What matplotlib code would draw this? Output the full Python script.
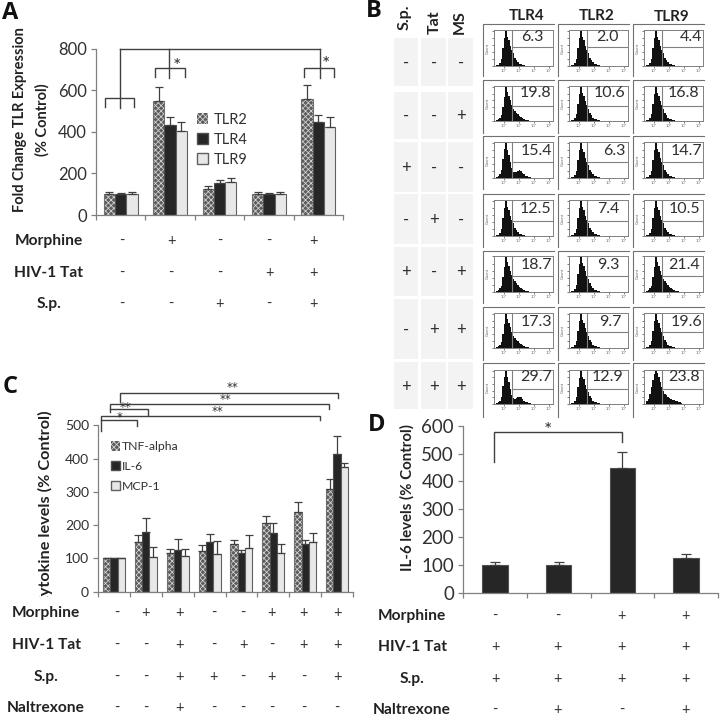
import numpy as np
import matplotlib
matplotlib.use("Agg")
import matplotlib.pyplot as plt
from matplotlib.patches import Patch, Rectangle

plt.rcParams['font.family'] = ['Lato', 'DejaVu Sans']
plt.rcParams['hatch.linewidth'] = 0.55

W, H = 720, 717
GREY = '#808080'
TXT = '#303030'
HATCH_BG = '#5c5c5c'
HATCH_FG = '#d8d8d8'

# panel A
a_tlr2 = [100, 550, 125, 100, 560]
a_tlr4 = [100, 435, 155, 100, 445]
a_tlr9 = [100, 402, 160, 100, 425]
a_tlr2_err = [10, 65, 15, 10, 65]
a_tlr4_err = [8, 35, 12, 8, 35]
a_tlr9_err = [10, 43, 18, 10, 47]
a_morphine = ['-', '+', '-', '-', '+']
a_tat = ['-', '-', '-', '+', '+']
a_sp = ['-', '-', '+', '-', '+']

# panel C
c_tnf = [100, 150, 115, 123, 142, 207, 238, 310]
c_il6 = [100, 180, 125, 148, 115, 176, 142, 414]
c_mcp = [100, 103, 106, 112, 130, 116, 149, 376]
c_tnf_err = [0, 20, 14, 16, 12, 20, 32, 30]
c_il6_err = [0, 42, 32, 25, 10, 30, 12, 55]
c_mcp_err = [0, 30, 23, 40, 41, 26, 26, 11]
c_morphine = ['-', '+', '+', '-', '-', '+', '+', '+']
c_tat = ['-', '-', '+', '-', '+', '-', '+', '+']
c_sp = ['-', '-', '+', '+', '-', '+', '-', '+']
c_nal = ['-', '-', '+', '-', '-', '-', '-', '-']

# panel D
d_il6 = [100, 100, 450, 125]
d_il6_err = [12, 12, 55, 15]
d_morphine = ['-', '-', '+', '+']
d_tat = ['+', '+', '+', '+']
d_sp = ['+', '+', '+', '+']
d_nal = ['-', '+', '-', '+']

# panel B
b_sp = ['-', '-', '+', '-', '+', '-', '+']
b_tat = ['-', '-', '-', '+', '-', '+', '+']
b_ms = ['-', '+', '-', '-', '+', '+', '+']
b_tlr4 = ['6.3', '19.8', '15.4', '12.5', '18.7', '17.3', '29.7']
b_tlr2 = ['2.0', '10.6', '6.3', '7.4', '9.3', '9.7', '12.9']
b_tlr9 = ['4.4', '16.8', '14.7', '10.5', '21.4', '19.6', '23.8']

# histogram outlines (fraction of peak per bin)
hist_narrow = [.02, .04, .08, .2, .5, .78, 1.0, .82, .74, .58, .46, .36, .24, .17, .1, .07, .05, .03, .02, .01, .01, 0, 0, 0]
hist_shoulder = [.03, .05, .1, .18, .42, .7, .98, .84, .72, .6, .48, .36, .3, .24, .19, .15, .12, .09, .06, .04, .03, .02, .01, .01]
hist_bimodal = [.03, .05, .1, .22, .55, .82, 1.0, .8, .66, .46, .28, .18, .16, .17, .2, .22, .2, .15, .1, .07, .05, .03, .02, .01]
hist_broad = [.1, .16, .3, .5, .72, .9, .98, .94, .82, .66, .5, .38, .3, .26, .21, .18, .15, .13, .11, .09, .08, .06, .05, .04]
hist_rows = [
    [hist_narrow, hist_narrow, hist_narrow],
    [hist_shoulder, hist_narrow, hist_narrow],
    [hist_bimodal, hist_narrow, hist_narrow],
    [hist_narrow, hist_narrow, hist_narrow],
    [hist_shoulder, hist_narrow, hist_shoulder],
    [hist_shoulder, hist_narrow, hist_narrow],
    [hist_bimodal, hist_narrow, hist_broad],
]


def px_axes(fig, x0, x1, ytop, ybot):
    return fig.add_axes([x0 / W, 1 - ybot / H, (x1 - x0) / W, (ybot - ytop) / H])


def bars(ax, vals, errs, offs, width, kind):
    x = np.arange(len(vals)) + 0.5 + offs
    if kind == 'hatch':
        ax.bar(x, vals, width, facecolor=HATCH_BG, edgecolor=HATCH_FG, hatch='xxxxxx', linewidth=0)
        ax.bar(x, vals, width, facecolor='none', edgecolor='#707070', linewidth=0.8)
    elif kind == 'dark':
        ax.bar(x, vals, width, facecolor='#262626', edgecolor='#505050', linewidth=0.8)
    else:
        ax.bar(x, vals, width, facecolor='#e8e8e8', edgecolor='#606060', linewidth=0.8)
    ax.errorbar(x, vals, yerr=[np.zeros(len(vals)), errs], fmt='none', ecolor='#404040',
                elinewidth=0.9, capsize=2.6, capthick=0.9)


def style(ax, n, ymax, step, size):
    ax.set_xlim(0, n)
    ax.set_ylim(0, ymax)
    ax.set_xticks(range(n + 1))
    ax.set_xticklabels([])
    ax.set_yticks(range(0, ymax + 1, step))
    ax.tick_params(axis='both', color=GREY, length=3.5, width=0.9, labelsize=size, labelcolor=TXT, pad=3)
    for s in ['top', 'right']:
        ax.spines[s].set_visible(False)
    for s in ['left', 'bottom']:
        ax.spines[s].set_color(GREY)
        ax.spines[s].set_linewidth(0.9)
    ax.patch.set_alpha(0)


def legend_handles(names):
    return [Patch(facecolor=HATCH_BG, edgecolor=HATCH_FG, hatch='xxxxxx', linewidth=0, label=names[0]),
            Patch(facecolor='#262626', edgecolor='#505050', label=names[1]),
            Patch(facecolor='#e8e8e8', edgecolor='#606060', label=names[2])]


def sign_rows(ov, labels, rows, ys, xs, xlabel, size=11.2):
    for lab, row, y in zip(labels, rows, ys):
        ov.text(xlabel, y, lab, ha='center', va='center', fontsize=size, fontweight='bold', color='#222222')
        for s, x in zip(row, xs):
            ov.text(x, y, s, ha='center', va='center', fontsize=10.5, color=TXT)


def bracket(ov, x0, x1, y, drop0, drop1):
    ov.plot([x0, x0, x1, x1], [drop0, y, y, drop1], color='#404040', lw=1.0, solid_joinstyle='miter')


fig = plt.figure(figsize=(7.2, 7.17), dpi=100)
fig.patch.set_facecolor('white')

# A
ax_a = px_axes(fig, 96, 343, 48.7, 215)
bars(ax_a, a_tlr2, a_tlr2_err, -0.227, 0.227, 'hatch')
bars(ax_a, a_tlr4, a_tlr4_err, 0, 0.227, 'dark')
bars(ax_a, a_tlr9, a_tlr9_err, 0.227, 0.227, 'light')
style(ax_a, 5, 800, 200, 12)
ax_a.legend(handles=legend_handles(['TLR2', 'TLR4', 'TLR9']), loc='upper left', bbox_to_anchor=(0.41, 0.615),
            frameon=False, fontsize=10.5, labelcolor=TXT, handlelength=0.75, handleheight=0.8,
            handletextpad=0.35, labelspacing=0.42, borderpad=0, borderaxespad=0)

# C
ax_c = px_axes(fig, 98, 353, 425.3, 591.7)
bars(ax_c, c_tnf, c_tnf_err, -0.23, 0.23, 'hatch')
bars(ax_c, c_il6, c_il6_err, 0, 0.23, 'dark')
bars(ax_c, c_mcp, c_mcp_err, 0.23, 0.23, 'light')
style(ax_c, 8, 500, 100, 10)
ax_c.legend(handles=legend_handles(['TNF-alpha', 'IL-6', 'MCP-1']), loc='upper left', bbox_to_anchor=(0.052, 0.905),
            frameon=False, fontsize=8.8, labelcolor=TXT, handlelength=0.75, handleheight=0.8,
            handletextpad=0.1, labelspacing=0.72, borderpad=0, borderaxespad=0)

# D
ax_d = px_axes(fig, 463, 718, 425.7, 593)
ax_d.bar(np.arange(4) + 0.5, d_il6, 0.4, facecolor='#262626', edgecolor='#505050', linewidth=0.8)
ax_d.errorbar(np.arange(4) + 0.5, d_il6, yerr=[np.zeros(4), d_il6_err], fmt='none', ecolor='#404040',
              elinewidth=0.9, capsize=3.5, capthick=0.9)
style(ax_d, 4, 600, 100, 13.5)

# overlay in pixel coordinates for table, labels and brackets
ov = fig.add_axes([0, 0, 1, 1], zorder=5)
ov.set_xlim(0, W)
ov.set_ylim(H, 0)
ov.axis('off')

for lab, x, y in [('A', 10, 13), ('B', 374, 11), ('C', 10, 387), ('D', 377, 425)]:
    ov.text(x, y, lab, ha='center', va='center', fontsize=17, fontweight='bold', color='#111111',
            family='Open Sans')

ov.text(20, 120, 'Fold Change TLR Expression', rotation=90, ha='center', va='center',
        fontsize=10.5, fontweight='bold', color='#222222')
ov.text(42, 120, '(% Control)', rotation=90, ha='center', va='center',
        fontsize=10.5, fontweight='bold', color='#222222')
# the C of this label is cut off in the original
cyt = ov.text(45, 508, 'Cytokine levels (% Control)', rotation=90, ha='center', va='center',
              fontsize=11.7, fontweight='bold', color='#222222')
cyt.set_clip_on(True)
cyt.set_clip_path(Rectangle((0, 0), W, 597, transform=ov.transData))
ov.text(407, 498, 'IL-6 levels (% Control)', rotation=90, ha='center', va='center',
        fontsize=10.8, fontweight='bold', color='#222222')

sign_rows(ov, ['Morphine', 'HIV-1 Tat', 'S.p.'], [a_morphine, a_tat, a_sp], [241, 273, 304],
          [122, 171, 220, 269, 313], 49)
sign_rows(ov, ['Morphine', 'HIV-1 Tat', 'S.p.', 'Naltrexone'], [c_morphine, c_tat, c_sp, c_nal],
          [613, 645, 677, 708], [117, 146, 180, 214, 243, 272, 304, 337], 46)
sign_rows(ov, ['Morphine', 'HIV-1 Tat', 'S.p.', 'Naltrexone'], [d_morphine, d_tat, d_sp, d_nal],
          [616, 647, 679, 710], [495, 558, 622, 685], 412)

# brackets A
ov.plot([120, 320], [48.7, 48.7], color='#404040', lw=1.0)
ov.plot([120, 120], [48.7, 108], color='#404040', lw=1.0)
ov.plot([169, 169], [48.7, 78], color='#404040', lw=1.0)
ov.plot([320, 320], [48.7, 78], color='#404040', lw=1.0)
bracket(ov, 105, 134, 97.7, 107, 107)
bracket(ov, 155, 185, 67.7, 77, 77)
bracket(ov, 304, 334, 67.7, 77, 77)
ov.text(177, 66, '*', ha='center', va='center', fontsize=14, color=TXT)
ov.text(326, 64, '*', ha='center', va='center', fontsize=14, color=TXT)

# brackets C
bracket(ov, 120, 338, 392.7, 402, 398)
bracket(ov, 110, 329, 404, 412, 409)
bracket(ov, 110, 148, 408.7, 408.7, 415)
bracket(ov, 101, 320, 415.7, 430.7, 420)
bracket(ov, 101, 137, 420, 420, 426)
for x, y, s in [(233, 388, '**'), (226, 400, '**'), (126, 407, '**'), (218, 412, '**'), (120, 418, '*')]:
    ov.text(x, y, s, ha='center', va='center', fontsize=8.5, color=TXT, family='DejaVu Sans')

# bracket D
bracket(ov, 494, 622, 432, 462, 442)
ov.text(548, 431, '*', ha='center', va='center', fontsize=14, color=TXT)

# B table
col_x = [(394, 418), (421, 446), (448, 473)]
row_y = [(38, 86), (92, 139), (142, 192), (194, 244), (247, 296), (299, 359), (362, 409)]
row_c = [63, 116, 168, 220, 272, 330, 387]
for (x0, x1), col in zip(col_x, [b_sp, b_tat, b_ms]):
    for (y0, y1), yc, s in zip(row_y, row_c, col):
        ov.add_patch(Rectangle((x0, y0), x1 - x0, y1 - y0, facecolor='#f3f3f3', edgecolor='none'))
        ov.text((x0 + x1) / 2 + 0.5, yc, s, ha='center', va='center', fontsize=12, color=TXT)
for s, x, y in [('S.p.', 405, 17), ('Tat', 435, 22), ('MS', 460, 22)]:
    ov.text(x, y, s, rotation=90, ha='center', va='center', fontsize=11.5, fontweight='bold', color='#222222')
for s, x, y in [('TLR4', 527, 16), ('TLR2', 597, 16), ('TLR9', 672, 17)]:
    ov.text(x, y, s, ha='center', va='center', fontsize=11, fontweight='bold', color='#222222')

# flow plots
frame_left = [483, 558, 633]
frame_top = [24, 80, 136, 194, 250.7, 307, 363]
frame_bot = [76, 132.7, 189, 247, 303, 360, 417]
box_top = [30, 86, 142, 200, 255.7, 313, 370]
gate_y = [47, 106, 162, 221, 276, 332, 389]
base_y = [66, 121, 178, 236, 292, 348, 404]
num_y = [37, 93, 151, 209, 265, 322, 377]
num_right = [[544, 551, 552, 551, 552, 552, 552],
             [619, 625, 625, 619, 619, 621, 623],
             [702, 699, 702, 700, 700, 702, 700]]
nums = [b_tlr4, b_tlr2, b_tlr9]

for c, left in enumerate(frame_left):
    for r in range(7):
        ov.plot([left, left, left + 71], [frame_bot[r], frame_top[r], frame_top[r]], color='#707070', lw=0.8)
        ax = px_axes(fig, left + 11, left + 70, box_top[r], base_y[r])
        h = np.array(hist_rows[r][c])
        edges = np.arange(len(h) + 1) * 1.5 + 2
        ax.stairs(h, edges, fill=True, color='#111111')
        ax.set_xlim(0, 59)
        ax.set_ylim(0, 1.02)
        gate = 1.02 * (base_y[r] - gate_y[r]) / (base_y[r] - box_top[r])
        ax.plot([18, 18], [0, 1.02], color=GREY, lw=0.8)
        ax.plot([18, 59], [gate, gate], color=GREY, lw=0.8)
        ax.set_xticks([10, 25, 40, 55])
        ax.set_xticklabels(['10²', '10³', '10⁴', '10⁵'], fontsize=3, color='#777777')
        ax.set_yticks(np.linspace(0, 1, 6))
        ax.set_yticklabels([])
        ax.tick_params(length=1.5, width=0.5, color='#444444', pad=1)
        for sp in ax.spines.values():
            sp.set_color(GREY)
            sp.set_linewidth(0.7)
        ov.text(left + 5, (box_top[r] + base_y[r]) / 2, 'Count', rotation=90, ha='center', va='center',
                fontsize=3, color='#666666')
        ov.text(num_right[c][r], num_y[r], nums[c][r], ha='right', va='center', fontsize=11.5, color=TXT, zorder=6)

fig.savefig('out.png', dpi=100)
